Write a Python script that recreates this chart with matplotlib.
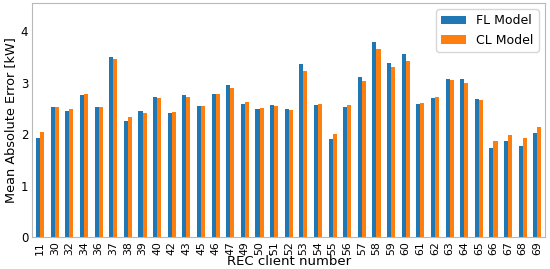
import numpy as np
import pandas as pd
import matplotlib
matplotlib.use("Agg")
import matplotlib.pyplot as plt


clients = [11, 30, 32, 34, 36, 37, 38, 39, 40, 42, 43, 45, 46, 47, 49, 50, 51,
           52, 53, 54, 55, 56, 57, 58, 59, 60, 61, 62, 63, 64, 65, 66, 67, 68, 69]

fl_mae = [1.92, 2.53, 2.45, 2.77, 2.53, 3.51, 2.26, 2.46, 2.73, 2.41, 2.76, 2.54,
          2.79, 2.96, 2.59, 2.49, 2.56, 2.49, 3.37, 2.57, 1.90, 2.53, 3.11, 3.80,
          3.39, 3.57, 2.59, 2.70, 3.07, 3.07, 2.69, 1.73, 1.86, 1.77, 2.03]

cl_mae = [2.05, 2.53, 2.50, 2.78, 2.53, 3.46, 2.33, 2.42, 2.71, 2.44, 2.73, 2.54,
          2.79, 2.90, 2.63, 2.52, 2.55, 2.47, 3.24, 2.59, 2.00, 2.57, 3.03, 3.65,
          3.30, 3.43, 2.61, 2.73, 3.05, 3.00, 2.66, 1.87, 1.99, 1.93, 2.15]


df = pd.DataFrame(
    {
        "FL Model": fl_mae,
        "CL Model": cl_mae
    },
    index=clients
)

fig, ax = plt.subplots(figsize=(5.5, 2.69), dpi=100)

df.plot.bar(ax=ax, width=0.55, color=["#1f77b4", "#ff7f0e"])

ax.set_ylim(0, 4.55)
ax.set_yticks([0, 1, 2, 3, 4])
ax.tick_params(axis="both", length=0, pad=3)
ax.tick_params(axis="y", labelsize=8.5)
ax.tick_params(axis="x", labelsize=7.8, rotation=90)

ax.set_xlabel("REC client number", fontsize=9.5, labelpad=0)
ax.set_ylabel("Mean Absolute Error [kW]", fontsize=9.3, labelpad=3)

for s in ax.spines.values():
    s.set_color("#b8b8b8")

ax.legend(fontsize=9, loc="upper right")

fig.subplots_adjust(left=0.059, right=0.991, top=0.988, bottom=0.119)
fig.savefig("out.png")
